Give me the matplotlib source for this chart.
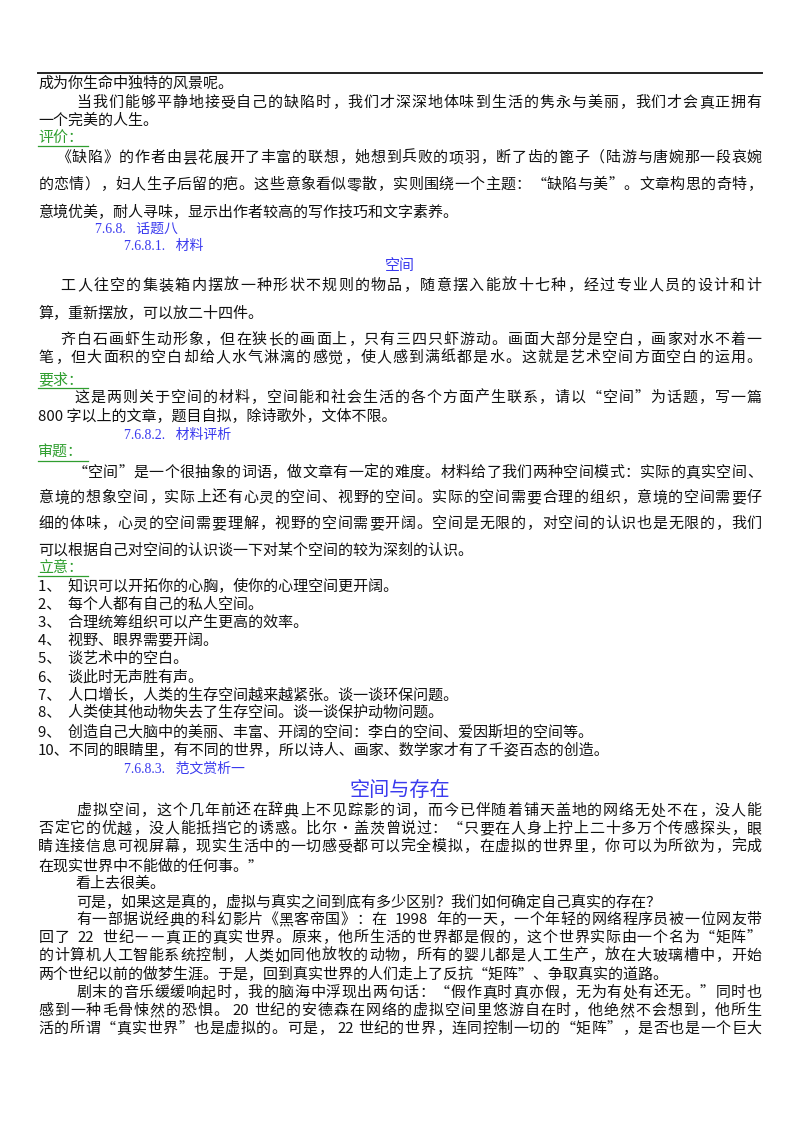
import matplotlib
matplotlib.use("Agg")
import matplotlib.pyplot as plt

plt.rcParams['font.family'] = ['Noto Sans CJK SC', 'DejaVu Sans']

W, H = 800, 1132
XR = 762
BLUE = '#3a3aee'
GREEN = '#2f9e2f'
BLACK = '#111111'

# (text, y, x0, kind) kind: j=justified body, b=body left, h=blue heading, g=green underlined, c=centered blue title, t=big title
lines = [
    ("成为你生命中独特的风景呢。", 84, 38, 'b'),
    ("当我们能够平静地接受自己的缺陷时，我们才深深地体味到生活的隽永与美丽，我们才会真正拥有", 103, 76, 'j'),
    ("一个完美的人生。", 121, 38, 'b'),
    ("评价：", 138, 38, 'g'),
    ("《缺陷》的作者由昙花展开了丰富的联想，她想到兵败的项羽，断了齿的篦子（陆游与唐婉那一段哀婉", 158, 56, 'j'),
    ("的恋情），妇人生子后留的疤。这些意象看似零散，实则围绕一个主题：“缺陷与美”。文章构思的奇特，", 185, 38, 'j'),
    ("意境优美，耐人寻味，显示出作者较高的写作技巧和文字素养。", 212, 38, 'b'),
    ("7.6.8.   话题八", 229, 95, 'h'),
    ("7.6.8.1.   材料", 246, 124, 'h'),
    ("空间", 266, 400, 'c'),
    ("工人往空的集装箱内摆放一种形状不规则的物品，随意摆入能放十七种，经过专业人员的设计和计", 286, 60, 'j'),
    ("算，重新摆放，可以放二十四件。", 313, 38, 'b'),
    ("齐白石画虾生动形象，但在狭长的画面上，只有三四只虾游动。画面大部分是空白，画家对水不着一", 340, 60, 'j'),
    ("笔，但大面积的空白却给人水气淋漓的感觉，使人感到满纸都是水。这就是艺术空间方面空白的运用。", 358, 38, 'j'),
    ("要求：", 380, 38, 'g'),
    ("这是两则关于空间的材料，空间能和社会生活的各个方面产生联系，请以“空间”为话题，写一篇", 398, 74, 'j'),
    ("800 字以上的文章，题目自拟，除诗歌外，文体不限。", 416, 38, 'b'),
    ("7.6.8.2.   材料评析", 435, 124, 'h'),
    ("审题：", 453, 38, 'g'),
    ("“空间”是一个很抽象的词语，做文章有一定的难度。材料给了我们两种空间模式：实际的真实空间、", 473, 72, 'j'),
    ("意境的想象空间，实际上还有心灵的空间、视野的空间。实际的空间需要合理的组织，意境的空间需要仔", 498, 38, 'j'),
    ("细的体味，心灵的空间需要理解，视野的空间需要开阔。空间是无限的，对空间的认识也是无限的，我们", 524, 38, 'j'),
    ("可以根据自己对空间的认识谈一下对某个空间的较为深刻的认识。", 550, 38, 'b'),
    ("立意：", 568, 38, 'g'),
    ("1、  知识可以开拓你的心胸，使你的心理空间更开阔。", 587, 38, 'b'),
    ("2、  每个人都有自己的私人空间。", 605, 38, 'b'),
    ("3、  合理统筹组织可以产生更高的效率。", 623, 38, 'b'),
    ("4、  视野、眼界需要开阔。", 641, 38, 'b'),
    ("5、  谈艺术中的空白。", 659, 38, 'b'),
    ("6、  谈此时无声胜有声。", 677, 38, 'b'),
    ("7、  人口增长，人类的生存空间越来越紧张。谈一谈环保问题。", 695, 38, 'b'),
    ("8、  人类使其他动物失去了生存空间。谈一谈保护动物问题。", 713, 38, 'b'),
    ("9、  创造自己大脑中的美丽、丰富、开阔的空间：李白的空间、爱因斯坦的空间等。", 732, 38, 'b'),
    ("10、不同的眼睛里，有不同的世界，所以诗人、画家、数学家才有了千姿百态的创造。", 750, 38, 'b'),
    ("7.6.8.3.   范文赏析一", 769, 124, 'h'),
    ("空间与存在", 790, 400, 't'),
    ("虚拟空间，这个几年前还在辞典上不见踪影的词，而今已伴随着铺天盖地的网络无处不在，没人能", 811, 76, 'j'),
    ("否定它的优越，没人能抵挡它的诱惑。比尔•盖茨曾说过：“只要在人身上拧上二十多万个传感探头，眼", 829, 38, 'j'),
    ("睛连接信息可视屏幕，现实生活中的一切感受都可以完全模拟，在虚拟的世界里，你可以为所欲为，完成", 847, 38, 'j'),
    ("在现实世界中不能做的任何事。”", 866, 38, 'b'),
    ("看上去很美。", 884, 76, 'b'),
    ("可是，如果这是真的，虚拟与真实之间到底有多少区别？我们如何确定自己真实的存在？", 902, 76, 'b'),
    ("有一部据说经典的科幻影片《黑客帝国》：在 1998 年的一天，一个年轻的网络程序员被一位网友带", 920, 76, 'j'),
    ("回了 22 世纪——真正的真实世界。原来，他所生活的世界都是假的，这个世界实际由一个名为“矩阵”", 938, 38, 'j'),
    ("的计算机人工智能系统控制，人类如同他放牧的动物，所有的婴儿都是人工生产，放在大玻璃槽中，开始", 956, 38, 'j'),
    ("两个世纪以前的做梦生涯。于是，回到真实世界的人们走上了反抗“矩阵”、争取真实的道路。", 974, 38, 'b'),
    ("剧末的音乐缓缓响起时，我的脑海中浮现出两句话：“假作真时真亦假，无为有处有还无。”同时也", 993, 76, 'j'),
    ("感到一种毛骨悚然的恐惧。20 世纪的安德森在网络的虚拟空间里悠游自在时，他绝然不会想到，他所生", 1011, 38, 'j'),
    ("活的所谓“真实世界”也是虚拟的。可是，22 世纪的世界，连同控制一切的“矩阵”，是否也是一个巨大", 1029, 38, 'j'),
]

fig = plt.figure(figsize=(W / 100, H / 100), dpi=100)
ax = fig.add_axes([0, 0, 1, 1])
ax.set_xlim(0, W)
ax.set_ylim(H, 0)
ax.axis('off')

ax.plot([38, XR], [73, 73], color='#222222', lw=1.4)

FS = 10.8


def tokens(s):
    out = []
    buf = ''
    for c in s:
        if ord(c) < 128:
            buf += c
        else:
            if buf:
                out.append(buf)
                buf = ''
            out.append(c)
    if buf:
        out.append(buf)
    return out


def width(tok):
    return 0.52 * len(tok) if ord(tok[0]) < 128 else 1.0


for text, y, x0, kind in lines:
    if kind == 'j':
        toks = tokens(text)
        ws = [width(t) for t in toks]
        tot = sum(ws)
        scale = (XR - x0) / tot
        x = x0
        for t, w in zip(toks, ws):
            ax.text(x + w * scale / 2, y, t.strip() if t.strip() else ' ', fontsize=FS,
                    color=BLACK, ha='center', va='center')
            x += w * scale
    elif kind == 'b':
        ax.text(x0, y, text, fontsize=FS, color=BLACK, ha='left', va='center')
    elif kind == 'h':
        ax.text(x0, y, text, fontsize=10, color=BLUE, ha='left', va='center',
                family=['Liberation Serif', 'Noto Sans CJK SC'])
    elif kind == 'g':
        ax.text(x0, y, text, fontsize=FS, color=GREEN, ha='left', va='center')
        ax.plot([x0, x0 + 50], [y + 8, y + 8], color=GREEN, lw=0.9)
    elif kind == 'c':
        ax.text(x0, y, text, fontsize=FS, color=BLUE, ha='center', va='center')
    elif kind == 't':
        ax.text(x0, y, text, fontsize=14.5, color=BLUE, ha='center', va='center')

fig.savefig('out.png', dpi=100)
